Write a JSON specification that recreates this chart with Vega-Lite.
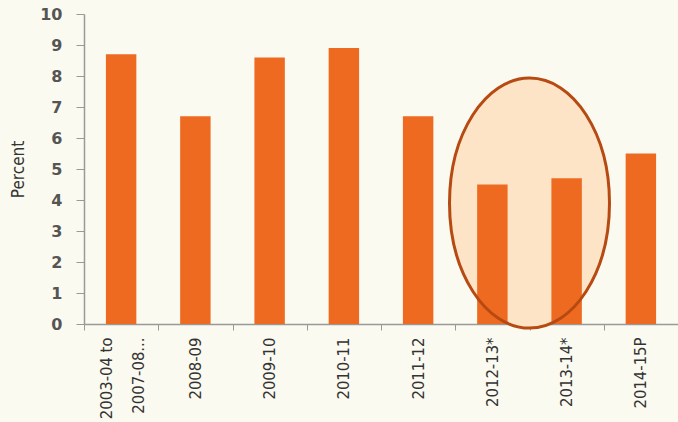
{
  "$schema": "https://vega.github.io/schema/vega-lite/v6.json",
  "width": 594,
  "height": 310,
  "autosize": {"type": "none"},
  "padding": {"left": 84, "top": 14, "right": 0, "bottom": 98},
  "background": "#fbfaf0",
  "config": {"view": {"stroke": null}},
  "data": {
    "values": [
      {"period": "2003-04 to 2007-08...", "growth": 8.7},
      {"period": "2008-09", "growth": 6.7},
      {"period": "2009-10", "growth": 8.6},
      {"period": "2010-11", "growth": 8.9},
      {"period": "2011-12", "growth": 6.7},
      {"period": "2012-13*", "growth": 4.5},
      {"period": "2013-14*", "growth": 4.7},
      {"period": "2014-15P", "growth": 5.5}
    ]
  },
  "encoding": {
    "x": {
      "field": "period",
      "type": "nominal",
      "scale": {
        "domain": ["2003-04 to 2007-08...", "2008-09", "2009-10", "2010-11", "2011-12", "2012-13*", "2013-14*", "2014-15P"],
        "paddingInner": 0, "paddingOuter": 0
      },
      "axis": {
        "title": null,
        "labelAngle": -90,
        "labelFont": "DejaVu Sans Condensed",
        "labelFontSize": 16.5,
        "labelColor": "#333333",
        "labelPadding": 7,
        "labelExpr": "datum.value == '2003-04 to 2007-08...' ? ['2003-04 to', '2007-08...'] : datum.label",
        "labelLineHeight": 32,
        "labelOffset": {"condition": {"test": "datum.value == '2003-04 to 2007-08...'", "value": -15}, "value": 0},
        "tickBand": "extent",
        "tickSize": 6,
        "tickColor": "#999999",
        "domainColor": "#999999",
        "domainWidth": 1.5
      }
    },
    "y": {
      "field": "growth",
      "type": "quantitative",
      "scale": {"domain": [0, 10], "nice": false},
      "axis": {
        "title": "Percent",
        "titleFont": "DejaVu Sans Condensed",
        "titleFontSize": 17,
        "titleFontWeight": "normal",
        "titleColor": "#333333",
        "titlePadding": 12,
        "values": [0, 1, 2, 3, 4, 5, 6, 7, 8, 9, 10],
        "labelOverlap": false,
        "grid": false,
        "labelFont": "DejaVu Sans",
        "labelFontWeight": "bold",
        "labelFontSize": 16,
        "labelColor": "#555555",
        "labelPadding": 14,
        "tickSize": 8,
        "tickColor": "#999999",
        "domainColor": "#999999",
        "domainWidth": 1.5
      }
    }
  },
  "layer": [
    {
      "mark": {"type": "point", "filled": true, "shape": "M -0.64 0 A 0.64 1 0 1 0 0.64 0 A 0.64 1 0 1 0 -0.64 0 Z", "size": 62500, "color": "#fde4c6", "opacity": 1},
      "transform": [{"filter": "datum.period == '2012-13*'"}],
      "encoding": {
        "x": {"field": "period", "type": "nominal", "bandPosition": 1},
        "y": {"datum": 3.9, "type": "quantitative"}
      }
    },
    {
      "mark": {"type": "bar", "color": "#ee6a21", "width": {"band": 0.41}}
    },
    {
      "mark": {"type": "point", "filled": false, "shape": "M -0.64 0 A 0.64 1 0 1 0 0.64 0 A 0.64 1 0 1 0 -0.64 0 Z", "size": 62500, "color": "#b64a12", "strokeWidth": 3, "opacity": 1},
      "transform": [{"filter": "datum.period == '2012-13*'"}],
      "encoding": {
        "x": {"field": "period", "type": "nominal", "bandPosition": 1},
        "y": {"datum": 3.9, "type": "quantitative"}
      }
    }
  ]
}
